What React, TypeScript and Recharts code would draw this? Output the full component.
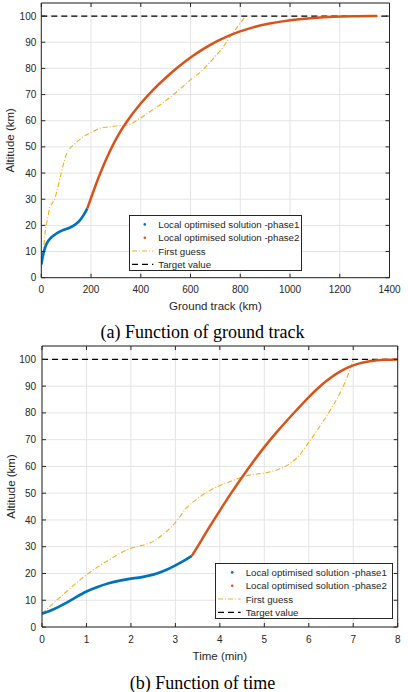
import {
  CartesianGrid,
  Legend,
  Line,
  LineChart,
  ReferenceLine,
  XAxis,
  YAxis,
} from 'recharts'

// Altitude profiles of the ascent: optimised solution (two phases), first guess and target.
const TRACK_TICKS = [0, 200, 400, 600, 800, 1000, 1200, 1400]
const TIME_TICKS = [0, 1, 2, 3, 4, 5, 6, 7, 8]
const ALT_TICKS = [0, 10, 20, 30, 40, 50, 60, 70, 80, 90, 100]
const TARGET_ALTITUDE = 100

// (a) against ground track (km)
const phase1TrackKm = [0, 5, 10, 15, 22, 30, 40, 50, 65, 80, 100, 120, 140, 155, 170, 185]
const phase1TrackAlt = [5, 7.8, 9.9, 11.5, 13.2, 14.4, 15.4, 16.2, 17.2, 17.9, 18.6, 19.3, 20.5, 21.8, 23.8, 26.5]

const phase2TrackKm = [185, 200, 236, 276, 300, 337, 400, 450, 504, 550, 598, 650, 705, 750, 799, 850, 907, 1000, 1100, 1175, 1250, 1350]
const phase2TrackAlt = [26.5, 30.5, 40, 48.5, 53, 59, 66.8, 72, 76.8, 80.6, 84.1, 87.4, 90.4, 92.4, 94.2, 95.7, 97, 98.5, 99.4, 99.75, 99.92, 100]

const guessTrackKm = [0, 4, 8, 15, 25, 35, 45, 55, 65, 75, 82, 92, 102, 115, 129, 150, 169, 200, 236, 270, 300, 343, 370, 397, 450, 504, 550, 598, 650, 692, 730, 759, 790, 819]
const guessTrackAlt = [5, 7.5, 10, 17, 22.5, 27, 28.6, 30.5, 34, 38, 40.8, 44.5, 47.5, 49.5, 50.7, 52.5, 53.9, 55.5, 57.1, 57.6, 58, 58.3, 59.3, 60.9, 64.3, 67.9, 71.5, 75.5, 79.5, 83.8, 88, 92.1, 96, 99.7]

// (b) against time (min)
const phase1TimeMin = [0, 0.25, 0.5, 0.75, 1, 1.25, 1.5, 1.75, 2, 2.25, 2.5, 2.75, 3, 3.2, 3.37]
const phase1TimeAlt = [5, 6.4, 8.6, 11, 13.4, 15, 16.4, 17.4, 18.1, 18.6, 19.5, 20.9, 23, 24.8, 26.6]

const phase2TimeMin = [3.37, 3.5, 3.75, 4, 4.25, 4.5, 4.75, 5, 5.25, 5.5, 5.75, 6, 6.25, 6.5, 6.75, 7, 7.25, 7.5, 7.75, 8]
const phase2TimeAlt = [26.6, 30, 37, 43.5, 50, 56, 61.8, 67.3, 72.3, 77, 81.5, 86, 90, 93.3, 96, 97.9, 99, 99.6, 99.9, 100]

const guessTimeMin = [0, 0.5, 1, 1.5, 2, 2.25, 2.5, 2.75, 3, 3.25, 3.5, 3.75, 4, 4.25, 4.5, 4.75, 5, 5.25, 5.5, 5.75, 6, 6.25, 6.5, 6.75, 6.9, 7]
const guessTimeAlt = [5, 12.5, 19.5, 25, 29.4, 30.5, 32, 35, 39, 44.5, 48, 50.8, 52.8, 54.5, 56, 57, 57.5, 58.5, 60.3, 63.5, 69, 75, 81.5, 89, 95, 100]

const SERIES_NAMES = [
  'Local optimised solution -phase1',
  'Local optimised solution -phase2',
  'First guess',
  'Target value',
]

const BLUE = '#0072BD'
const ORANGE = '#D95319'
const YELLOW = '#EDB120'
const AXIS = '#262626'
const GRID = '#e4e4e4'
const SANS = '"Liberation Sans", Arial, Helvetica, sans-serif'

const toPoints = (xs: number[], ys: number[]) => xs.map((x, i) => ({ x, y: ys[i] }))

function YTitle({ viewBox, value }: any) {
  const cy = viewBox.y + viewBox.height / 2
  return (
    <text
      x={10.5}
      y={cy}
      transform={`rotate(-90 10.5 ${cy})`}
      textAnchor="middle"
      dominantBaseline="central"
      fill={AXIS}
      fontSize={11.5}
      fontFamily={SANS}
    >
      {value}
    </text>
  )
}

function makeXTitle(dy: number) {
  return ({ viewBox, value }: any) => (
    <text
      x={viewBox.x + viewBox.width / 2}
      y={viewBox.y + dy}
      textAnchor="middle"
      dominantBaseline="central"
      fill={AXIS}
      fontSize={11.5}
      fontFamily={SANS}
    >
      {value}
    </text>
  )
}

function LegendBox({ width, textX }: { width: number; textX: number }) {
  const rowY = [9.4, 22.7, 36, 49.4]
  return (
    <svg width={width} height={56} style={{ display: 'block' }}>
      <rect x={0.5} y={0.5} width={width - 1} height={55} fill="#fff" stroke={AXIS} strokeWidth={1} />
      <circle cx={textX - 13.5} cy={rowY[0]} r={1.3} fill={BLUE} />
      <circle cx={textX - 13.5} cy={rowY[1]} r={1.3} fill={ORANGE} />
      <line x1={3} x2={textX - 5} y1={rowY[2]} y2={rowY[2]} stroke={YELLOW} strokeWidth={1.2} strokeDasharray="5 2 1 2" />
      <line x1={3} x2={textX - 5} y1={rowY[3]} y2={rowY[3]} stroke="#000" strokeWidth={1.2} strokeDasharray="6 4" />
      {SERIES_NAMES.map((name, i) => (
        <text
          key={name}
          x={textX}
          y={rowY[i]}
          dominantBaseline="central"
          fontSize={9.7}
          fontFamily={SANS}
          fill={AXIS}
        >
          {name}
        </text>
      ))}
    </svg>
  )
}

interface PanelProps {
  top: number
  height: number
  margin: { top: number; right: number; left: number; bottom: number }
  yAxisWidth: number
  xAxisHeight: number
  xDomain: [number, number]
  xTicks: number[]
  xLabel: string
  xTickMargin: number
  yTickMargin: number
  xTitleDy: number
  phase1: { x: number; y: number }[]
  phase2: { x: number; y: number }[]
  guess: { x: number; y: number }[]
  legend: { left: number; top: number; width: number; textX: number }
}

function AltitudePanel(p: PanelProps) {
  const tickStyle = { fill: AXIS, fontSize: 10, fontFamily: SANS }
  return (
    <div style={{ position: 'absolute', left: 0, top: p.top }}>
      <LineChart width={408} height={p.height} margin={p.margin}>
        <CartesianGrid stroke={GRID} strokeWidth={1} />
        <XAxis
          type="number"
          dataKey="x"
          domain={p.xDomain}
          ticks={p.xTicks}
          allowDataOverflow
          height={p.xAxisHeight}
          stroke={AXIS}
          tick={tickStyle}
          tickSize={-4}
          tickMargin={p.xTickMargin}
          label={{ value: p.xLabel, content: makeXTitle(p.xTitleDy) }}
        />
        <XAxis
          xAxisId="top"
          orientation="top"
          type="number"
          dataKey="x"
          domain={p.xDomain}
          ticks={p.xTicks}
          allowDataOverflow
          height={1}
          stroke={AXIS}
          tick={() => <g />}
          tickSize={-4}
        />
        <YAxis
          type="number"
          dataKey="y"
          domain={[0, 105]}
          ticks={ALT_TICKS}
          allowDataOverflow
          width={p.yAxisWidth}
          stroke={AXIS}
          tick={tickStyle}
          tickSize={-4}
          tickMargin={p.yTickMargin}
          label={{ value: 'Altitude (km)', content: YTitle }}
        />
        <YAxis
          yAxisId="right"
          orientation="right"
          type="number"
          domain={[0, 105]}
          ticks={ALT_TICKS}
          allowDataOverflow
          width={1}
          stroke={AXIS}
          tick={() => <g />}
          tickSize={-4}
        />
        <Line
          data={p.guess}
          dataKey="y"
          type="monotone"
          stroke={YELLOW}
          strokeWidth={1.1}
          strokeDasharray="5 2 1 2"
          dot={false}
          activeDot={false}
          isAnimationActive={false}
        />
        <ReferenceLine y={TARGET_ALTITUDE} stroke="#000" strokeWidth={1.2} strokeDasharray="6 4" />
        <Line
          data={p.phase1}
          dataKey="y"
          type="basis"
          stroke={BLUE}
          strokeWidth={2.7}
          dot={false}
          activeDot={false}
          isAnimationActive={false}
        />
        <Line
          data={p.phase2}
          dataKey="y"
          type="basis"
          stroke={ORANGE}
          strokeWidth={2.5}
          dot={false}
          activeDot={false}
          isAnimationActive={false}
        />
        <Legend
          layout="vertical"
          align="center"
          verticalAlign="middle"
          wrapperStyle={{ left: p.legend.left, top: p.legend.top, width: p.legend.width, height: 56 }}
          content={() => <LegendBox width={p.legend.width} textX={p.legend.textX} />}
        />
      </LineChart>
    </div>
  )
}

const captionStyle = {
  position: 'absolute' as const,
  left: 0,
  width: 405,
  textAlign: 'center' as const,
  fontFamily: '"Liberation Serif", "Times New Roman", serif',
  fontSize: 18,
  lineHeight: '18px',
  color: '#000',
}

export default function App() {
  return (
    <div style={{ position: 'absolute', left: 0, top: 0, width: 408, height: 692, background: '#fff' }}>
      <AltitudePanel
        top={0}
        height={320}
        margin={{ top: 2, right: 17.5, left: 0, bottom: 0 }}
        yAxisWidth={41.3}
        xAxisHeight={42.3}
        xDomain={[0, 1400]}
        xTicks={TRACK_TICKS}
        xLabel="Ground track (km)"
        xTickMargin={12}
        yTickMargin={9}
        xTitleDy={28.3}
        phase1={toPoints(phase1TrackKm, phase1TrackAlt)}
        phase2={toPoints(phase2TrackKm, phase2TrackAlt)}
        guess={toPoints(guessTrackKm, guessTrackAlt)}
        legend={{ left: 129, top: 215.3, width: 173, textX: 29.3 }}
      />
      <div style={{ ...captionStyle, top: 323.3 }}>(a) Function of ground track</div>
      <AltitudePanel
        top={340}
        height={330}
        margin={{ top: 5, right: 9.3, left: 0, bottom: 0 }}
        yAxisWidth={42}
        xAxisHeight={43}
        xDomain={[0, 8]}
        xTicks={TIME_TICKS}
        xLabel="Time (min)"
        xTickMargin={12.7}
        yTickMargin={10}
        xTitleDy={28.7}
        phase1={toPoints(phase1TimeMin, phase1TimeAlt)}
        phase2={toPoints(phase2TimeMin, phase2TimeAlt)}
        guess={toPoints(guessTimeMin, guessTimeAlt)}
        legend={{ left: 215, top: 223.3, width: 178, textX: 30.7 }}
      />
      <div style={{ ...captionStyle, top: 673.9 }}>(b) Function of time</div>
    </div>
  )
}
